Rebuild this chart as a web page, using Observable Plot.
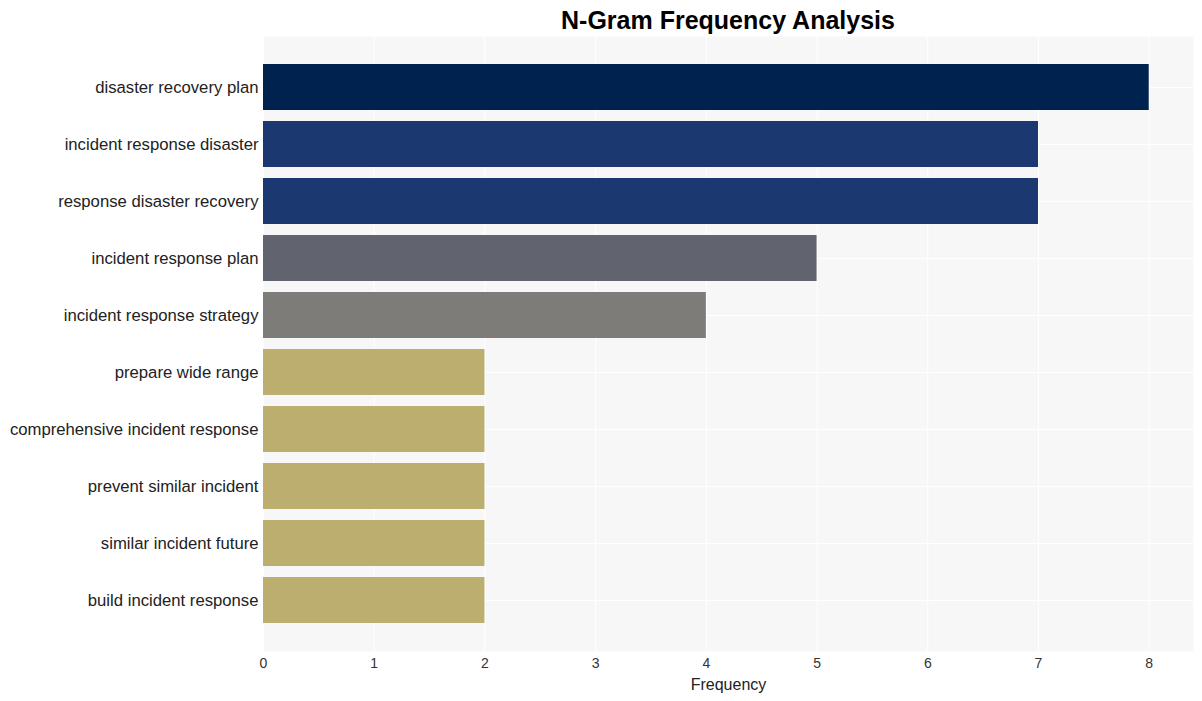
<!DOCTYPE html>
<html>
<head>
<meta charset="utf-8">
<script src="https://cdn.jsdelivr.net/npm/d3@7"></script>
<script src="https://cdn.jsdelivr.net/npm/@observablehq/plot@0.6"></script>
<style>
  html, body { margin: 0; padding: 0; background: #ffffff; }
  body { width: 1202px; height: 701px; overflow: hidden; font-family: "Liberation Sans", Arial, sans-serif; }
  #title { height: 36px; box-sizing: border-box; padding-left: 263px; padding-right: 9px; text-align: center;
           font-size: 25px; font-weight: bold; color: #000; line-height: 40px; }
  #chart svg text.xtick { font-size: 14px !important; }
</style>
</head>
<body>
<div id="title">N-Gram Frequency Analysis</div>
<div id="chart"></div>
<script>
const ngrams = [
  "disaster recovery plan",
  "incident response disaster",
  "response disaster recovery",
  "incident response plan",
  "incident response strategy",
  "prepare wide range",
  "comprehensive incident response",
  "prevent similar incident",
  "similar incident future",
  "build incident response"
];
const counts = [8, 7, 7, 5, 4, 2, 2, 2, 2, 2];
const barColors = ["#00224e", "#1b3870", "#1b3870", "#61646f", "#7e7c78", "#bcae6f", "#bcae6f", "#bcae6f", "#bcae6f", "#bcae6f"];
const xTicks = [0, 1, 2, 3, 4, 5, 6, 7, 8];

const data = ngrams.map((g, i) => ({ngram: g, count: counts[i], color: barColors[i]}));

const chart = Plot.plot({
  width: 1202,
  height: 665,
  marginLeft: 263,
  marginRight: 9,
  marginTop: 0,
  marginBottom: 50,
  style: {fontFamily: "'Liberation Sans', Arial, sans-serif", background: "transparent"},
  x: {domain: [0, 8.4], ticks: xTicks, tickFormat: d => String(d), label: "Frequency", labelAnchor: "center", labelArrow: "none"},
  y: {domain: ngrams, paddingInner: 0.2, paddingOuter: 0.467, label: null},
  marks: [
    Plot.frame({fill: "#f7f7f7", stroke: null}),
    Plot.gridX(xTicks, {stroke: "#ffffff", strokeOpacity: 1, strokeWidth: 1}),
    Plot.gridY(ngrams, {stroke: "#ffffff", strokeOpacity: 1, strokeWidth: 1}),
    Plot.barX(data, {x: "count", y: "ngram", fill: "color"}),
    Plot.axisX({ticks: xTicks, tickSize: 0, tickPadding: 7, fontSize: 14, color: "#333333",
                label: "Frequency", labelAnchor: "center", labelArrow: "none", labelOffset: 38}),
    Plot.axisY({tickSize: 0, tickPadding: 5, fontSize: 16.7, color: "#222222", label: null})
  ]
});
document.getElementById("chart").appendChild(chart);
chart.querySelectorAll("text").forEach(t => {
  if (/^\d$/.test(t.textContent.trim())) { t.classList.add("xtick"); t.setAttribute("font-size", "14"); }
  if (t.textContent.trim() === "Frequency") { t.style.fontSize = "16px"; t.style.fill = "#222"; }
});
</script>
</body>
</html>
